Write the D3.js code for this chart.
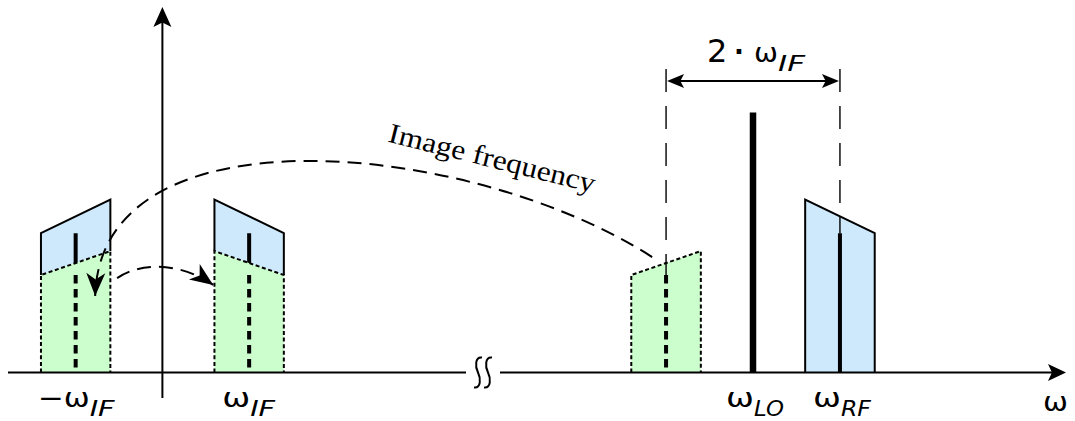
<!DOCTYPE html>
<html>
<head>
<meta charset="utf-8">
<script src="https://cdn.jsdelivr.net/npm/d3@7"></script>
<style>
  html, body { margin: 0; padding: 0; background: #fff; }
  svg { display: block; }
</style>
</head>
<body>
<script>
// ---- Spectrum data (frequencies in units of ω_IF, levels relative to the LO tone) ----
const ifFreq = 1;
const loFreq = 10;
const rfFreq = loFreq + ifFreq;
const imageFreq = loFreq - ifFreq;

const bandHalfWidth = 0.4;
const rfEdgeLevels = [0.665, 0.536];     // band top at lower / upper band edge
const imageEdgeLevels = [0.375, 0.467];  // band top at lower / upper band edge
const rfCarrierLevel = 0.536;
const imageCarrierLevel = 0.375;
const loLevel = 1.0;

// Frequency tick labels under the axis
const tickMain = ["\u2212\u03c9", "\u03c9", "\u03c9", "\u03c9"];
const tickSub = ["IF", "IF", "LO", "RF"];
const tickFreqs = [-ifFreq, ifFreq, loFreq, rfFreq];

// Axis extent and the break between the baseband and the RF part
const axisDomain = [-1.78, 13.6];
const axisBreak = [3.5, 7.09];

// Curved "image frequency" arrow and the short fold-over arrow (freq, level)
const imageArrowPts = [[8.84, 0.444], [3.92, 0.894], [-0.717, 1.03], [-0.775, 0.294]];
const foldArrowPts = [[-0.522, 0.363], [-0.256, 0.425], [0.205, 0.425], [0.586, 0.337]];
const imageArrowLabel = "Image frequency";
const imageLabelPos = [6.03, 0.79];

// Dimension marker between image and RF
const dimLevel = 1.121;
const dimTopLevel = 1.167;
const dimLabelLevel = 1.194;

// ---- Scales ----
const W = 1075, H = 421;
const x = d3.scaleLinear()
  .domain([axisDomain[0], axisBreak[0], axisBreak[1], axisDomain[1]])
  .range([8, 466, 500, 1066]);
const y = d3.scaleLinear().domain([0, 1]).range([372.5, 112.5]);

const BLUE = "#cde9fb";
const GREEN = "#ccfdcc";

const svg = d3.select("body").append("svg")
  .attr("width", W).attr("height", H)
  .attr("viewBox", `0 0 ${W} ${H}`);

const line = d3.line().x(d => x(d[0])).y(d => y(d[1]));

// stealth-style arrow head with its tip at (tx, ty), pointing along angle (radians)
function arrowHead(g, tx, ty, angle, len, wid, notch = 0.78) {
  const p = d3.path();
  p.moveTo(0, 0);
  p.lineTo(-len, -wid / 2);
  p.lineTo(-len * notch, 0);
  p.lineTo(-len, wid / 2);
  p.closePath();
  g.append("path")
    .attr("d", p.toString())
    .attr("fill", "#000")
    .attr("transform", `translate(${tx},${ty}) rotate(${angle * 180 / Math.PI})`);
}

// ω-style label: main symbol ending at xEnd, subscript starting there
const labelFont = "'DejaVu Sans', sans-serif";
function mathLabel(g, xEnd, yBase, main, mainWidth, sub, subWidth) {
  g.append("text")
    .attr("x", xEnd - mainWidth).attr("y", yBase)
    .attr("font-family", labelFont).attr("font-size", 27)
    .attr("textLength", mainWidth).attr("lengthAdjust", "spacingAndGlyphs")
    .text(main);
  if (sub) {
    g.append("text")
      .attr("x", xEnd).attr("y", yBase + 9)
      .attr("font-family", labelFont).attr("font-size", 22)
      .attr("font-style", "italic")
      .attr("textLength", subWidth).attr("lengthAdjust", "spacingAndGlyphs")
      .text(sub);
  }
}

// ---- Bands ----
// the copies at ±ω_IF hold the RF band and the (mirrored) image band
const bands = [
  { c: -ifFreq, blue: [rfEdgeLevels[1], rfEdgeLevels[0]], green: imageEdgeLevels.slice() },
  { c: ifFreq, blue: rfEdgeLevels.slice(), green: [imageEdgeLevels[1], imageEdgeLevels[0]] },
  { c: imageFreq, blue: null, green: imageEdgeLevels.slice() },
  { c: rfFreq, blue: rfEdgeLevels.slice(), green: null }
];

const gBands = svg.append("g");

bands.forEach(b => {
  const l = b.c - bandHalfWidth, r = b.c + bandHalfWidth;
  const gL = b.green ? b.green[0] : 0, gR = b.green ? b.green[1] : 0;
  if (b.blue) {
    gBands.append("path")
      .attr("d", line([[l, gL], [l, b.blue[0]], [r, b.blue[1]], [r, gR]]) + "Z")
      .attr("fill", BLUE);
  }
});

// RF carrier as it appears inside the baseband copies (under the green image part)
[-ifFreq, ifFreq].forEach(f => {
  gBands.append("line")
    .attr("x1", x(f)).attr("x2", x(f))
    .attr("y1", y(rfCarrierLevel)).attr("y2", y(0))
    .attr("stroke", "#000").attr("stroke-width", 4);
});

bands.forEach(b => {
  const l = b.c - bandHalfWidth, r = b.c + bandHalfWidth;
  if (b.green) {
    gBands.append("path")
      .attr("d", line([[l, 0], [l, b.green[0]], [r, b.green[1]], [r, 0]]) + "Z")
      .attr("fill", GREEN);
  }
});

// outlines
bands.forEach(b => {
  const l = b.c - bandHalfWidth, r = b.c + bandHalfWidth;
  const gL = b.green ? b.green[0] : 0, gR = b.green ? b.green[1] : 0;
  if (b.blue) {
    gBands.append("path")
      .attr("d", line([[l, gL], [l, b.blue[0]], [r, b.blue[1]], [r, gR]]))
      .attr("fill", "none").attr("stroke", "#000").attr("stroke-width", 2)
      .attr("stroke-linejoin", "miter");
  }
  if (b.green) {
    gBands.append("path")
      .attr("d", line([[l, 0], [l, b.green[0]], [r, b.green[1]], [r, 0]]))
      .attr("fill", "none").attr("stroke", "#000").attr("stroke-width", 2)
      .attr("stroke-dasharray", "4,2.6");
  }
});

// image carrier (dashed) in baseband copies and at the image frequency
[-ifFreq, ifFreq, imageFreq].forEach(f => {
  gBands.append("line")
    .attr("x1", x(f)).attr("x2", x(f))
    .attr("y1", y(imageCarrierLevel)).attr("y2", y(0))
    .attr("stroke", "#000").attr("stroke-width", 4)
    .attr("stroke-dasharray", "8.5,5.5");
});

// dimension guides from the 2·ω_IF marker down to the carriers
[[imageFreq, imageCarrierLevel], [rfFreq, rfCarrierLevel]].forEach(([f, lv]) => {
  svg.append("line")
    .attr("x1", x(f)).attr("x2", x(f))
    .attr("y1", y(dimTopLevel)).attr("y2", y(lv))
    .attr("stroke", "#000").attr("stroke-width", 1.4)
    .attr("stroke-dasharray", "23,14");
});

// RF carrier
svg.append("line")
  .attr("x1", x(rfFreq)).attr("x2", x(rfFreq))
  .attr("y1", y(rfCarrierLevel)).attr("y2", y(0))
  .attr("stroke", "#000").attr("stroke-width", 4);

// LO tone
svg.append("line")
  .attr("x1", x(loFreq)).attr("x2", x(loFreq))
  .attr("y1", y(loLevel)).attr("y2", y(0))
  .attr("stroke", "#000").attr("stroke-width", 6.5);

// ---- Axes ----
const gAxis = svg.append("g");
const y0 = y(0);
gAxis.append("line")
  .attr("x1", x(axisDomain[0])).attr("x2", x(axisBreak[0]))
  .attr("y1", y0).attr("y2", y0)
  .attr("stroke", "#000").attr("stroke-width", 2);
gAxis.append("line")
  .attr("x1", x(axisBreak[1])).attr("x2", x(axisDomain[1]) - 10)
  .attr("y1", y0).attr("y2", y0)
  .attr("stroke", "#000").attr("stroke-width", 2);
arrowHead(gAxis, x(axisDomain[1]), y0, 0, 18, 17);

// axis break squiggles
const bx = (x(axisBreak[0]) + x(axisBreak[1])) / 2;
[-5, 5].forEach(dx => {
  const cx = bx + dx;
  const p = d3.path();
  p.moveTo(cx + 4, y0 - 15);
  p.bezierCurveTo(cx - 3, y0 - 16, cx - 3, y0 - 6, cx, y0);
  p.bezierCurveTo(cx + 3, y0 + 6, cx + 3, y0 + 16, cx - 4, y0 + 15);
  gAxis.append("path").attr("d", p.toString())
    .attr("fill", "none").attr("stroke", "#000").attr("stroke-width", 2);
});

// vertical axis
gAxis.append("line")
  .attr("x1", x(0)).attr("x2", x(0))
  .attr("y1", y0 + 25.5).attr("y2", 20)
  .attr("stroke", "#000").attr("stroke-width", 2);
arrowHead(gAxis, x(0), 7, -Math.PI / 2, 20, 18);

// ---- Tick labels ----
const gLabels = svg.append("g");
tickFreqs.forEach((f, i) => {
  const hasMinus = tickMain[i].length > 1;
  const xEnd = x(f) + (hasMinus ? 13 : 0) + 1;
  const mainW = hasMinus ? 52 : 28;
  const subW = tickSub[i] === "IF" ? 25 : 30;
  mathLabel(gLabels, xEnd, y0 + 34, tickMain[i], mainW, tickSub[i], subW);
});
// axis name
mathLabel(gLabels, x(axisDomain[1]) + 2, y0 + 38, "\u03c9", 25, null, 0);

// ---- 2·ω_IF dimension ----
const gDim = svg.append("g");
const dimY = y(dimLevel);
gDim.append("line")
  .attr("x1", x(imageFreq) + 8).attr("x2", x(rfFreq) - 8)
  .attr("y1", dimY).attr("y2", dimY)
  .attr("stroke", "#000").attr("stroke-width", 2);
arrowHead(gDim, x(imageFreq) + 1, dimY, Math.PI, 17, 14);
arrowHead(gDim, x(rfFreq) - 1, dimY, 0, 17, 14);

const dimMid = (x(imageFreq) + x(rfFreq)) / 2;
const dimBase = y(dimLabelLevel);
gDim.append("text")
  .attr("x", dimMid - 46).attr("y", dimBase)
  .attr("font-family", labelFont).attr("font-size", 32)
  .text("2");
gDim.append("text")
  .attr("x", dimMid - 14).attr("y", dimBase - 1)
  .attr("text-anchor", "middle")
  .attr("font-family", labelFont).attr("font-size", 26).attr("font-weight", "bold")
  .text("\u00b7");
mathLabel(gDim, dimMid + 25, dimBase, "\u03c9", 24, "IF", 27);

// ---- Curved arrows ----
function bezier(pts) {
  const p = d3.path();
  const P = pts.map(d => [x(d[0]), y(d[1])]);
  p.moveTo(P[0][0], P[0][1]);
  p.bezierCurveTo(P[1][0], P[1][1], P[2][0], P[2][1], P[3][0], P[3][1]);
  return { d: p.toString(), P };
}

[imageArrowPts, foldArrowPts].forEach(pts => {
  const b = bezier(pts);
  svg.append("path").attr("d", b.d)
    .attr("fill", "none").attr("stroke", "#000").attr("stroke-width", 2)
    .attr("stroke-dasharray", "14,8");
  const [p2, p3] = [b.P[2], b.P[3]];
  const ang = Math.atan2(p3[1] - p2[1], p3[0] - p2[0]);
  arrowHead(svg, p3[0], p3[1], ang, 23, 19, 0.72);
});

svg.append("text")
  .attr("transform", `translate(${x(imageLabelPos[0])},${y(imageLabelPos[1])}) rotate(14)`)
  .attr("text-anchor", "middle")
  .attr("font-family", "'Liberation Serif', serif")
  .attr("font-size", 28)
  .attr("textLength", 212).attr("lengthAdjust", "spacingAndGlyphs")
  .text(imageArrowLabel);
</script>
</body>
</html>
